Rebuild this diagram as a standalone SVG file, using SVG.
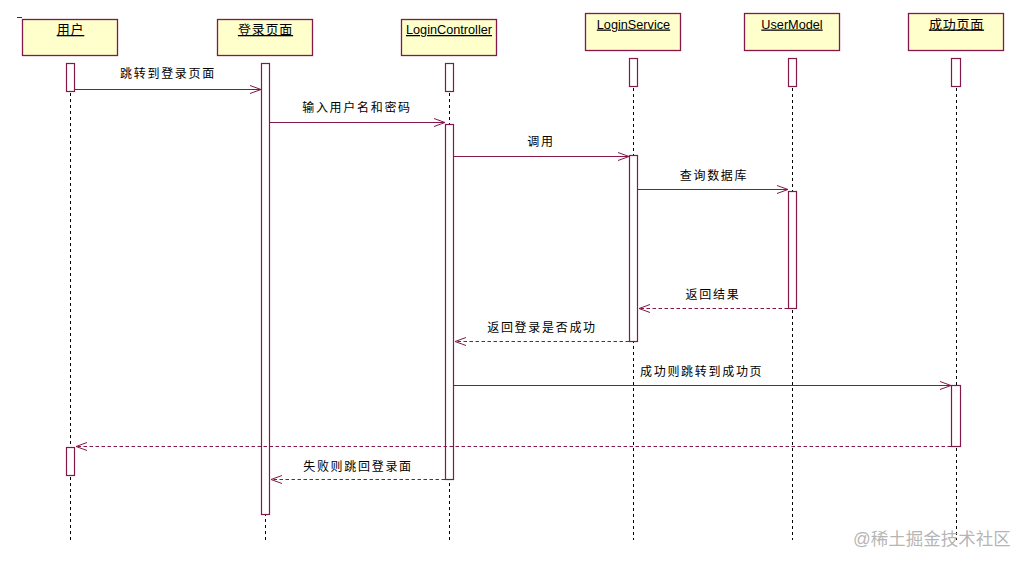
<svg xmlns="http://www.w3.org/2000/svg" width="1031" height="566" viewBox="0 0 1031 566">
<style>
.bg{fill:#ffffff}
.head{fill:#ffffcc;stroke:#84184b;stroke-width:1.3}
.act{fill:#ffffff;stroke:#84184b;stroke-width:1.2}
.life{stroke:#000;stroke-width:1;stroke-dasharray:3 3;fill:none}
.msg{stroke:#84184b;stroke-width:1;fill:none}
.ret{stroke:#84184b;stroke-width:1;fill:none;stroke-dasharray:3.5 2.5}
.ht{font-family:"Liberation Sans","Noto Sans CJK SC",sans-serif;font-size:12.7px;fill:#000;text-anchor:middle;text-decoration:underline}
.hc{font-family:"Liberation Sans","Noto Sans CJK SC",sans-serif;font-size:13px;letter-spacing:0.8px;fill:#000;text-anchor:middle;text-decoration:underline}
.lb{font-family:"Liberation Sans","Noto Sans CJK SC",sans-serif;font-size:12px;letter-spacing:1.7px;fill:#000;text-anchor:middle}
.wm{font-family:"Liberation Sans","Noto Sans CJK SC",sans-serif;font-size:17.5px;fill:#a8a8a8;fill-opacity:0.85}
</style>
<defs>
<marker id="open" viewBox="0 0 12 10" refX="11" refY="5" markerWidth="12" markerHeight="10" markerUnits="userSpaceOnUse" orient="auto">
<path d="M0,1 L11,5 L0,9" fill="none" stroke="#84184b" stroke-width="1" stroke-dasharray="none"/>
</marker>
</defs>
<rect class="bg" x="0" y="0" width="1031" height="566"/>
<line x1="17" y1="17.5" x2="22" y2="17.5" stroke="#333" stroke-width="1"/>

<g id="node-user">
<rect class="head" x="22.5" y="19.5" width="95" height="36"/>
<text class="hc" x="70.5" y="34">用户</text>
<line class="life" x1="70.5" y1="63" x2="70.5" y2="540"/>
<rect class="act" x="66.5" y="63.5" width="8" height="28"/>
<rect class="act" x="66.5" y="447.5" width="8" height="28"/>
</g>

<g id="node-loginpage">
<rect class="head" x="217.5" y="19.5" width="95" height="36"/>
<text class="hc" x="265.5" y="34">登录页面</text>
<line class="life" x1="265.5" y1="63" x2="265.5" y2="540"/>
<rect class="act" x="261.5" y="63.5" width="8" height="451"/>
</g>

<g id="node-controller">
<rect class="head" x="401.5" y="19.5" width="95" height="36"/>
<text class="ht" x="449" y="34">LoginController</text>
<line class="life" x1="449.5" y1="63" x2="449.5" y2="540"/>
<rect class="act" x="445.5" y="63.5" width="8" height="28"/>
<rect class="act" x="445.5" y="124.5" width="8" height="355"/>
</g>

<g id="node-service">
<rect class="head" x="585.5" y="13.5" width="95" height="37"/>
<text class="ht" x="633.5" y="28.5">LoginService</text>
<line class="life" x1="633.5" y1="58" x2="633.5" y2="540"/>
<rect class="act" x="629.5" y="58.5" width="8" height="28"/>
<rect class="act" x="629.5" y="155.5" width="8" height="186"/>
</g>

<g id="node-usermodel">
<rect class="head" x="744.5" y="13.5" width="95" height="37"/>
<text class="ht" x="792" y="28.5">UserModel</text>
<line class="life" x1="792.5" y1="58" x2="792.5" y2="540"/>
<rect class="act" x="788.5" y="58.5" width="8" height="28"/>
<rect class="act" x="788.5" y="191.5" width="8" height="117"/>
</g>

<g id="node-success">
<rect class="head" x="908.5" y="13.5" width="95" height="37"/>
<text class="hc" x="956.5" y="28.5">成功页面</text>
<line class="life" x1="956.5" y1="58" x2="956.5" y2="540"/>
<rect class="act" x="951.5" y="58.5" width="9" height="28"/>
<rect class="act" x="951.5" y="385.5" width="9" height="61"/>
</g>

<g id="connectors">
<line class="msg" x1="75" y1="89.5" x2="261" y2="89.5" marker-end="url(#open)"/>
<text class="lb" x="168" y="78">跳转到登录页面</text>

<line class="msg" x1="270" y1="122.5" x2="445" y2="122.5" marker-end="url(#open)"/>
<text class="lb" x="357" y="112">输入用户名和密码</text>

<line class="msg" x1="454" y1="156.5" x2="629" y2="156.5" marker-end="url(#open)"/>
<text class="lb" x="541" y="146">调用</text>

<line class="msg" x1="638" y1="189.5" x2="788" y2="189.5" marker-end="url(#open)"/>
<text class="lb" x="714" y="180">查询数据库</text>

<line class="ret" x1="788" y1="308.5" x2="639" y2="308.5" marker-end="url(#open)"/>
<text class="lb" x="713" y="299">返回结果</text>

<line class="ret" x1="629" y1="341.5" x2="455" y2="341.5" marker-end="url(#open)"/>
<text class="lb" x="542" y="332">返回登录是否成功</text>

<line class="msg" x1="454" y1="385.5" x2="951" y2="385.5" marker-end="url(#open)"/>
<text class="lb" x="640" y="376" style="text-anchor:start">成功则跳转到成功页</text>

<line class="ret" x1="951" y1="446.5" x2="76" y2="446.5" marker-end="url(#open)"/>

<line class="ret" x1="445" y1="479.5" x2="271" y2="479.5" marker-end="url(#open)"/>
<text class="lb" x="358" y="471">失败则跳回登录面</text>
</g>

<text class="wm" x="853" y="545">@稀土掘金技术社区</text>
</svg>
